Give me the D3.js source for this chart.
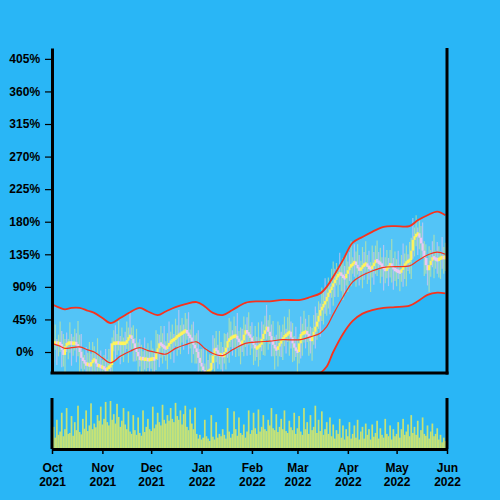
<!DOCTYPE html>
<html><head><meta charset="utf-8">
<script src="https://cdn.jsdelivr.net/npm/d3@7"></script>
<style>html,body{margin:0;padding:0;background:#29b6f6;} svg{display:block}</style>
</head><body><svg id="c" width="500" height="500"></svg>
<script>
// Daily closes (%), Oct 1 2021 .. May 31 2022
const closes = [
12,12,13,12,12,11,3,-4,8,12,
12,13,12,12,12,11,6,0,-8,-12,
-15,-18,-16,-20,-14,-12,-10,-16,-20,-18,
-22,-20,-24,-25,-22,-20,-18,12,12,12,
13,12,12,12,12,12,16,20,23,18,
12,5,0,-6,-11,-8,-10,-10,-10,-11,
-10,-10,-9,-10,-2,5,12,10,8,6,
5,8,12,15,16,18,20,22,24,25,
27,28,30,26,23,20,15,10,5,0,
-8,-15,-20,-25,-30,-28,-26,-25,-15,-5,
5,2,-2,-5,-3,-7,0,6,15,18,
20,21,22,22,18,14,10,16,24,30,
26,24,20,15,10,5,6,8,10,18,
25,30,35,28,22,15,10,5,3,8,
12,16,20,22,24,26,28,20,12,6,
2,0,12,25,26,27,28,25,20,15,
22,28,35,42,50,58,62,66,70,76,
82,86,90,95,100,104,107,109,106,103,
102,108,113,118,120,122,125,120,116,113,
116,119,121,122,118,116,115,119,123,127,
125,123,122,118,115,113,116,119,122,118,
115,113,112,111,110,114,118,122,124,126,
127,140,155,160,162,164,158,150,140,130,
120,113,120,126,131,129,128,127,129,130,
131,130,131];
// Upper wick length above body (%)
const wickUp = [
20,8,25,5,12,30,18,22,10,15,
6,28,12,9,20,14,32,18,25,10,
8,22,15,30,12,26,18,10,35,14,
20,9,16,28,12,24,30,8,18,25,
12,30,10,22,8,16,26,14,33,11,
19,7,27,13,24,18,9,30,15,22,
10,26,14,8,32,20,12,24,16,28,
9,18,30,13,22,7,26,15,34,12,
20,10,24,16,29,8,18,27,13,21,
30,12,19,25,9,33,15,22,11,28,
14,24,8,31,17,10,26,19,12,29,
22,9,27,14,32,11,20,16,25,8,
18,29,12,21,7,26,15,33,10,24,
13,20,30,9,23,16,28,11,19,34,
25,12,18,27,8,22,31,14,20,10,
29,16,9,24,13,30,18,7,26,15,
11,23,28,12,20,9,27,17,32,14,
21,8,25,30,15,19,10,28,13,24,
16,27,12,20,33,9,24,14,29,18,
10,26,17,31,12,22,8,28,15,20,
27,13,21,9,30,16,25,11,19,34,
12,24,15,28,10,20,32,14,23,9,
25,18,30,12,27,8,20,16,29,13,
19,10,26,15,22,31,11,24,17,9,
28,14,20];
// Lower wick length below body (%)
const wickDown = [
14,26,9,30,18,11,24,16,28,8,
22,13,31,17,10,25,12,29,15,20,
9,27,18,12,33,14,21,26,10,19,
30,15,22,9,25,12,17,28,11,24,
16,10,29,19,26,13,8,31,20,14,
25,18,12,27,9,22,30,14,17,11,
28,13,20,33,15,9,26,18,24,12,
17,29,11,22,14,31,10,25,19,27,
12,24,18,9,26,15,30,13,21,16,
20,11,27,14,32,10,23,17,29,8,
26,16,21,12,19,28,9,24,14,30,
11,25,15,29,13,20,27,10,22,17,
31,14,24,10,28,17,12,26,19,9,
22,30,13,25,11,21,16,29,8,23,
14,19,27,12,24,10,31,15,26,18,
9,28,16,21,30,13,22,11,25,17,
27,12,23,18,10,29,15,24,13,20,
16,30,11,26,19,8,28,14,22,31,
23,10,25,15,27,12,18,30,9,21,
13,28,19,11,24,16,32,12,26,15,
20,9,27,14,30,18,11,25,16,22,
29,15,21,10,26,13,24,17,31,12,
18,26,11,23,14,28,16,20,10,25,
12,21,30,16,9,27,13,19,24,28,
15,22,18];
// Daily volume (relative)
const volumes = [
30,45,22,60,28,35,75,25,40,85,30,32,68,26,55,38,90,34,29,62,41,80,36,48,95,40,52,44,70,58,88,
50,62,98,55,48,100,60,72,52,94,66,45,58,85,50,40,78,35,30,70,38,28,65,32,26,80,34,45,62,40,
36,88,42,50,75,55,48,92,60,52,70,58,85,62,55,96,68,60,80,50,72,90,45,38,82,52,40,86,30,20,28,
18,22,60,25,20,15,70,24,18,55,22,30,25,40,28,20,85,35,22,30,78,40,26,65,32,28,50,22,35,80,30,
38,75,42,30,82,35,45,70,40,36,60,48,85,42,38,72,34,45,62,40,80,36,32,58,44,38,75,30,
42,68,35,28,85,40,55,30,70,38,45,90,32,60,36,78,28,40,55,30,65,25,50,20,38,30,62,22,48,18,40,
25,55,20,30,48,22,60,18,35,45,20,52,28,40,18,50,24,32,58,20,42,28,22,62,30,25,48,18,40,25,
30,55,22,40,62,28,35,50,25,70,32,45,28,58,22,38,65,30,26,48,20,35,52,25,30,42,18,28,12,22,15];
// Bollinger-style band samples
const bandDates = ["2021-10-01","2021-10-06","2021-10-09","2021-10-13","2021-10-18","2021-10-23","2021-10-27",
"2021-11-01","2021-11-06","2021-11-12","2021-11-18","2021-11-24","2021-11-29","2021-12-05","2021-12-10",
"2021-12-16","2021-12-22","2021-12-29","2022-01-03","2022-01-08","2022-01-14","2022-01-20","2022-01-28",
"2022-02-05","2022-02-12","2022-02-20","2022-03-03","2022-03-09","2022-03-15","2022-03-19","2022-03-23",
"2022-03-29","2022-04-04","2022-04-10","2022-04-16","2022-04-23","2022-04-30","2022-05-09","2022-05-14",
"2022-05-20","2022-05-26","2022-05-31"];
const bandUpper = [66,61,59,61,61,57,54,47,40,47,55,61,56,51,56,62,66,69,63,54,51,58,68,70,70,72,72,76,81,90,104,127,151,159,166,173,174,174,182,189,194,189];
const bandMiddle = [12,8,5,6,7,3,0,-8,-15,-6,1,6,2,-1,-3,5,10,14,5,-2,-5,3,12,14,15,17,17,21,26,35,52,76,97,106,112,117,118,119,126,134,138,135];
const bandLower = [-42,-45,-49,-49,-47,-51,-54,-63,-70,-59,-53,-49,-52,-53,-62,-52,-46,-41,-53,-58,-61,-52,-44,-42,-40,-38,-38,-34,-29,-20,0,25,43,53,58,61,62,64,70,79,82,81];
const yTicks = [0,45,90,135,180,225,270,315,360,405];

const svg = d3.select("#c");
svg.append("rect").attr("width",500).attr("height",500).attr("fill","#29b6f6");

const start = new Date(2021,9,1), end = new Date(2022,5,1);
const days = d3.timeDay.range(start, d3.timeDay.offset(start, closes.length));
const parse = d3.timeParse("%Y-%m-%d");
const x = d3.scaleTime().domain([start,end]).range([52,447]);
const y = d3.scaleLinear().domain([-29,420]).range([373,48]);
const yv = d3.scaleLinear().domain([0,100]).range([448,401]);

const candles = days.map((d,i)=>{
  const o = i ? closes[i-1] : closes[0], c = closes[i];
  return {date:d, open:o, close:c, high:Math.max(o,c)+wickUp[i], low:Math.min(o,c)-wickDown[i], vol:volumes[i]};
});
const bands = bandDates.map((s,i)=>({date:parse(s), up:bandUpper[i], mid:bandMiddle[i], lo:bandLower[i]}));

const defs = svg.append("defs");
defs.append("clipPath").attr("id","clipMain").append("rect").attr("x",52).attr("y",48).attr("width",395).attr("height",325);
defs.append("clipPath").attr("id","clipVol").append("rect").attr("x",52).attr("y",395).attr("width",395).attr("height",53);

const curve = d3.curveCatmullRom.alpha(0.5);
const main = svg.append("g").attr("clip-path","url(#clipMain)");
main.append("path").datum(bands)
  .attr("d", d3.area().x(d=>x(d.date)).y0(d=>y(d.lo)).y1(d=>y(d.up)).curve(curve))
  .attr("fill","#ffffff").attr("fill-opacity",0.2);

main.selectAll("line.wick").data(candles).enter().append("line").attr("class","wick")
  .attr("x1",d=>x(d.date)).attr("x2",d=>x(d.date))
  .attr("y1",d=>y(d.high)).attr("y2",d=>y(d.low))
  .attr("stroke",(d,i)=>i%3===0?"#ecc6f0":"#dcee8e").attr("stroke-opacity",0.6).attr("stroke-width",1.2);

main.selectAll("rect.body").data(candles).enter().append("rect").attr("class","body")
  .attr("x",d=>x(d.date)-1.1).attr("width",2.2)
  .attr("y",d=>{const h=Math.abs(y(d.open)-y(d.close)); const top=y(Math.max(d.open,d.close)); return h<3.5? top-(3.5-h)/2 : top;})
  .attr("height",d=>Math.max(3.5,Math.abs(y(d.open)-y(d.close))))
  .attr("fill",d=>d.close>=d.open?"#fff45c":"#ecc8f4");

const lineGen = key => d3.line().x(d=>x(d.date)).y(d=>y(d[key])).curve(curve);
main.append("path").datum(bands).attr("d",lineGen("up")).attr("fill","none").attr("stroke","#f8321c").attr("stroke-width",1.8);
main.append("path").datum(bands).attr("d",lineGen("lo")).attr("fill","none").attr("stroke","#f8321c").attr("stroke-width",1.8);
main.append("path").datum(bands).attr("d",lineGen("mid")).attr("fill","none").attr("stroke","#f8321c").attr("stroke-width",1.2);

// Volume
const vol = svg.append("g").attr("clip-path","url(#clipVol)");
vol.selectAll("rect").data(candles).enter().append("rect")
  .attr("x",d=>x(d.date)-0.85).attr("width",1.7)
  .attr("y",d=>yv(d.vol)).attr("height",d=>yv(0)-yv(d.vol))
  .attr("fill","#c6e276");

const font = "'Liberation Sans', Arial, Helvetica, sans-serif";
// Main axes
const ya = svg.append("g").attr("transform","translate(52,0)")
  .call(d3.axisLeft(y).tickValues(yTicks).tickSize(7).tickSizeOuter(0).tickFormat(d=>d+"%"));
ya.select(".domain").attr("stroke","#000").attr("stroke-width",3);
ya.selectAll(".tick line").attr("stroke","#000").attr("stroke-width",1.2);
ya.selectAll(".tick text").attr("x",-27.3).attr("text-anchor","middle")
  .attr("font-family",font).attr("font-weight","bold").attr("font-size",12).attr("fill","#000");

svg.append("line").attr("x1",447).attr("x2",447).attr("y1",y.range()[1]).attr("y2",y.range()[0]+1.5).attr("stroke","#000").attr("stroke-width",3);
svg.append("line").attr("x1",50.5).attr("x2",448.5).attr("y1",373).attr("y2",373).attr("stroke","#000").attr("stroke-width",3);

// Volume axes
svg.append("line").attr("x1",52).attr("x2",52).attr("y1",398).attr("y2",449).attr("stroke","#000").attr("stroke-width",3);
svg.append("line").attr("x1",447).attr("x2",447).attr("y1",398).attr("y2",449).attr("stroke","#000").attr("stroke-width",3);
const xa = svg.append("g").attr("transform","translate(0,449)")
  .call(d3.axisBottom(x).ticks(d3.timeMonth.every(1)).tickSize(5).tickSizeOuter(0));
xa.select(".domain").attr("stroke","#000").attr("stroke-width",3);
xa.selectAll(".tick line").attr("stroke","#000").attr("stroke-width",1.5);
const fm = d3.timeFormat("%b"), fy = d3.timeFormat("%Y");
xa.selectAll(".tick text").each(function(d){
  const t = d3.select(this).text(null).attr("dy",null).attr("y",null)
    .attr("font-family",font).attr("font-weight","bold").attr("font-size",12).attr("fill","#000");
  t.append("tspan").attr("x",0).attr("y",23).text(fm(d));
  t.append("tspan").attr("x",0).attr("y",37).text(fy(d));
});
</script></body></html>
